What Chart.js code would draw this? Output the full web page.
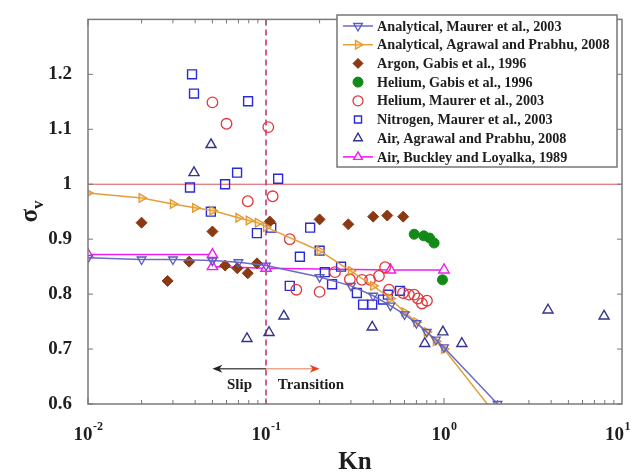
<!DOCTYPE html>
<html lang="en">
<head>
<meta charset="UTF-8" />
<title>Accommodation coefficient vs Kn</title>
<script src="https://cdn.jsdelivr.net/npm/chart.js@4.4.0/dist/chart.umd.min.js"></script>
<style>
  html, body { margin: 0; padding: 0; background: #fff; }
  .chart-box { position: relative; width: 631px; height: 473px; }
</style>
</head>
<body>
<div class="chart-box"><canvas id="tmacChart"></canvas></div>
<script>
// --- Data -----------------------------------------------------
const maurerAnaKn  = [0.01, 0.02, 0.03, 0.05, 0.07, 0.1, 0.2, 0.3, 0.4, 0.5, 0.6, 0.7, 0.8, 0.9, 1.0, 2.0];
const maurerAnaSig = [0.866, 0.863, 0.863, 0.861, 0.858, 0.852, 0.831, 0.815, 0.797, 0.779, 0.763, 0.747, 0.731, 0.717, 0.703, 0.600];

const agrawalAnaKn  = [0.01, 0.02, 0.03, 0.04, 0.05, 0.07, 0.08, 0.09, 0.1, 0.2, 0.3, 0.4, 0.5, 0.6, 0.7, 0.8, 0.9, 1.0, 2.0];
const agrawalAnaSig = [0.984, 0.975, 0.964, 0.957, 0.952, 0.939, 0.934, 0.930, 0.922, 0.879, 0.842, 0.815, 0.792, 0.767, 0.749, 0.731, 0.714, 0.700, 0.576];

const argonKn  = [0.02, 0.028, 0.037, 0.05, 0.059, 0.069, 0.079, 0.089, 0.105, 0.2, 0.29, 0.4, 0.48, 0.59];
const argonSig = [0.930, 0.824, 0.859, 0.914, 0.852, 0.847, 0.838, 0.856, 0.932, 0.936, 0.927, 0.941, 0.943, 0.941];

const heGabisKn  = [0.68, 0.77, 0.83, 0.88, 0.98];
const heGabisSig = [0.909, 0.906, 0.902, 0.893, 0.826];

const heMaurerKn  = [0.05, 0.06, 0.079, 0.103, 0.109, 0.136, 0.148, 0.2, 0.244, 0.296, 0.346, 0.384, 0.431, 0.467, 0.491, 0.589, 0.635, 0.68, 0.714, 0.752, 0.802];
const heMaurerSig = [1.149, 1.110, 0.969, 1.104, 0.978, 0.900, 0.808, 0.804, 0.840, 0.827, 0.826, 0.826, 0.833, 0.849, 0.808, 0.802, 0.799, 0.799, 0.792, 0.783, 0.788];

const n2Kn  = [0.0384, 0.0394, 0.0793, 0.0688, 0.0589, 0.0374, 0.049, 0.117, 0.0889, 0.107, 0.177, 0.2, 0.155, 0.264, 0.214, 0.136, 0.235, 0.324, 0.351, 0.395, 0.454, 0.484, 0.566];
const n2Sig = [1.200, 1.165, 1.151, 1.021, 1.000, 0.994, 0.950, 1.010, 0.911, 0.921, 0.921, 0.879, 0.868, 0.850, 0.840, 0.815, 0.818, 0.802, 0.781, 0.781, 0.790, 0.799, 0.806];

const airAgKn  = [0.0394, 0.0491, 0.0782, 0.104, 0.126, 0.395, 0.78, 0.986, 1.26, 3.84, 7.93];
const airAgSig = [1.021, 1.072, 0.719, 0.730, 0.760, 0.740, 0.710, 0.731, 0.710, 0.771, 0.760];

const buckleyKn  = [0.01, 0.05, 0.05, 0.1, 0.5, 1.0];
const buckleySig = [0.872, 0.872, 0.850, 0.847, 0.844, 0.844];

// axis ticks
const xMajorTicks = [0.01, 0.1, 1, 10];
const xTickExp    = ['-2', '-1', '0', '1'];
const yTicks      = [0.6, 0.7, 0.8, 0.9, 1.0, 1.1, 1.2];

const pts = (xs, ys) => xs.map((x, i) => ({ x, y: ys[i] }));

const SERIF = '"Liberation Serif", "Times New Roman", serif';

const datasets = [
  { label: 'Analytical, Maurer et al., 2003', data: pts(maurerAnaKn, maurerAnaSig), showLine: true,
    borderColor: '#6b6bc8', borderWidth: 1.5, pointStyle: 'triangle', rotation: 180, pointRadius: 5,
    pointBorderColor: '#5a5ab8', pointBackgroundColor: 'rgba(255,255,255,0)', pointBorderWidth: 1.3 },
  { label: 'Analytical, Agrawal and Prabhu, 2008', data: pts(agrawalAnaKn, agrawalAnaSig), showLine: true,
    borderColor: '#e3a03a', borderWidth: 1.5, pointStyle: 'triangle', rotation: 90, pointRadius: 5,
    pointBorderColor: '#df9a30', pointBackgroundColor: 'rgba(240,180,80,0.35)', pointBorderWidth: 1.3 },
  { label: 'Argon, Gabis et al., 1996', data: pts(argonKn, argonSig),
    pointStyle: 'rectRot', pointRadius: 5.5, pointBorderColor: '#8a3a12', pointBackgroundColor: '#8a3a12', pointBorderWidth: 1 },
  { label: 'Helium, Gabis et al., 1996', data: pts(heGabisKn, heGabisSig),
    pointStyle: 'circle', pointRadius: 5, pointBorderColor: '#138a18', pointBackgroundColor: '#138a18', pointBorderWidth: 1 },
  { label: 'Helium, Maurer et al., 2003', data: pts(heMaurerKn, heMaurerSig),
    pointStyle: 'circle', pointRadius: 5.3, pointBorderColor: '#e0383c', pointBackgroundColor: 'rgba(255,255,255,0)', pointBorderWidth: 1.3 },
  { label: 'Nitrogen, Maurer et al., 2003', data: pts(n2Kn, n2Sig),
    pointStyle: 'rect', pointRadius: 6.3, pointBorderColor: '#2a2ad6', pointBackgroundColor: 'rgba(255,255,255,0)', pointBorderWidth: 1.4 },
  { label: 'Air, Agrawal and Prabhu, 2008', data: pts(airAgKn, airAgSig),
    pointStyle: 'triangle', pointRadius: 5.8, pointBorderColor: '#33338e', pointBackgroundColor: 'rgba(255,255,255,0)', pointBorderWidth: 1.4 },
  { label: 'Air, Buckley and Loyalka, 1989', data: pts(buckleyKn, buckleySig), showLine: true,
    borderColor: '#f01ef0', borderWidth: 1.6, pointStyle: 'triangle', pointRadius: 6,
    pointBorderColor: '#f01ef0', pointBackgroundColor: 'rgba(255,255,255,0.9)', pointBorderWidth: 1.4 }
];

// --- Decorations: frame, inward ticks, labels, guides, legend ---
const decor = {
  id: 'decor',
  beforeDatasetsDraw(chart) {
    const { ctx, chartArea: a, scales: { x, y } } = chart;
    ctx.save();
    // sigma = 1 reference
    ctx.strokeStyle = '#e0505a'; ctx.lineWidth = 1;
    const y1 = y.getPixelForValue(1.0);
    ctx.beginPath(); ctx.moveTo(a.left, y1); ctx.lineTo(a.right, y1); ctx.stroke();
    // slip / transition boundary
    const xb = x.getPixelForValue(0.1);
    ctx.strokeStyle = '#c83a72'; ctx.lineWidth = 1.6; ctx.setLineDash([6, 4]);
    ctx.beginPath(); ctx.moveTo(xb, a.top); ctx.lineTo(xb, a.bottom); ctx.stroke();
    ctx.restore();
  },
  afterDraw(chart) {
    const { ctx, chartArea: a, scales: { x, y } } = chart;
    const h = Chart.helpers;
    ctx.save();

    // frame
    ctx.strokeStyle = '#7a7a7a'; ctx.lineWidth = 1.5;
    ctx.strokeRect(a.left, a.top, a.right - a.left, a.bottom - a.top);

    // inward ticks
    ctx.lineWidth = 1; ctx.strokeStyle = '#777';
    ctx.beginPath();
    for (let e = -2; e < 1; e++) {
      for (let m = 1; m <= 9; m++) {
        const px = x.getPixelForValue(m * Math.pow(10, e));
        const len = m === 1 ? 6 : 4;
        ctx.moveTo(px, a.bottom); ctx.lineTo(px, a.bottom - len);
        ctx.moveTo(px, a.top); ctx.lineTo(px, a.top + len);
      }
    }
    yTicks.forEach(v => {
      const py = y.getPixelForValue(v);
      ctx.moveTo(a.left, py); ctx.lineTo(a.left + 5, py);
      ctx.moveTo(a.right, py); ctx.lineTo(a.right - 5, py);
    });
    ctx.stroke();

    // x tick labels 10^n
    ctx.fillStyle = '#1e1e1e'; ctx.textBaseline = 'alphabetic';
    xMajorTicks.forEach((v, i) => {
      const px = x.getPixelForValue(v);
      ctx.font = 'bold 19px ' + SERIF;
      const wb = ctx.measureText('10').width;
      ctx.font = 'bold 12px ' + SERIF;
      const we = ctx.measureText(xTickExp[i]).width;
      let x0 = px - (wb + we) / 2;
      if (x0 + wb + we + 1 > chart.width) x0 = chart.width - wb - we - 1;
      ctx.font = 'bold 19px ' + SERIF; ctx.textAlign = 'left';
      ctx.fillText('10', x0, 440);
      ctx.font = 'bold 12px ' + SERIF;
      ctx.fillText(xTickExp[i], x0 + wb + 0.5, 430);
    });

    // axis titles
    ctx.font = 'bold 25px ' + SERIF; ctx.textAlign = 'center';
    ctx.fillText('Kn', (a.left + a.right) / 2, 469);
    ctx.save();
    ctx.translate(37, (a.top + a.bottom) / 2);
    ctx.rotate(-Math.PI / 2);
    ctx.font = 'bold 25px ' + SERIF; ctx.textAlign = 'left';
    const ws = ctx.measureText('σ').width;
    ctx.fillText('σ', -ws / 2 - 4, 0);
    ctx.font = 'bold 17px ' + SERIF;
    ctx.fillText('v', ws / 2 - 4, 6);
    ctx.restore();

    // slip / transition arrows
    const xb = x.getPixelForValue(0.1);
    const xl = x.getPixelForValue(0.05);
    const xr = x.getPixelForValue(0.2);
    const ya = y.getPixelForValue(0.664);
    ctx.lineWidth = 1.5;
    ctx.strokeStyle = '#555'; ctx.beginPath(); ctx.moveTo(xb, ya); ctx.lineTo(xl + 4, ya); ctx.stroke();
    ctx.fillStyle = '#222'; ctx.beginPath();
    ctx.moveTo(xl, ya); ctx.lineTo(xl + 10, ya - 4); ctx.lineTo(xl + 7, ya); ctx.lineTo(xl + 10, ya + 4); ctx.closePath(); ctx.fill();
    ctx.strokeStyle = '#f0a58a'; ctx.beginPath(); ctx.moveTo(xb, ya); ctx.lineTo(xr - 4, ya); ctx.stroke();
    ctx.fillStyle = '#e8401a'; ctx.beginPath();
    ctx.moveTo(xr, ya); ctx.lineTo(xr - 10, ya - 4); ctx.lineTo(xr - 7, ya); ctx.lineTo(xr - 10, ya + 4); ctx.closePath(); ctx.fill();
    ctx.fillStyle = '#1e1e1e'; ctx.font = 'bold 15px ' + SERIF; ctx.textAlign = 'center';
    const yt = y.getPixelForValue(0.627);
    ctx.fillText('Slip', x.getPixelForValue(0.071), yt);
    ctx.fillText('Transition', x.getPixelForValue(0.179), yt);

    // legend
    const lx = 337, ly = 15, lw = 280, lh = 152;
    ctx.fillStyle = '#fff'; ctx.fillRect(lx, ly, lw, lh);
    ctx.strokeStyle = '#777'; ctx.lineWidth = 1.5; ctx.strokeRect(lx, ly, lw, lh);
    ctx.font = 'bold 14.2px ' + SERIF; ctx.textAlign = 'left'; ctx.textBaseline = 'middle';
    chart.data.datasets.forEach((ds, i) => {
      const ry = 26 + i * 18.7;
      if (ds.showLine) {
        ctx.strokeStyle = ds.borderColor; ctx.lineWidth = ds.borderWidth;
        ctx.beginPath(); ctx.moveTo(lx + 6, ry); ctx.lineTo(lx + 36, ry); ctx.stroke();
      }
      ctx.strokeStyle = ds.pointBorderColor; ctx.fillStyle = ds.pointBackgroundColor;
      ctx.lineWidth = ds.pointBorderWidth;
      h.drawPoint(ctx, { pointStyle: ds.pointStyle, rotation: ds.rotation || 0,
        radius: Math.min(ds.pointRadius, 5), borderWidth: ds.pointBorderWidth }, lx + 21, ry);
      ctx.fillStyle = '#1e1e1e';
      ctx.fillText(ds.label, lx + 40, ry + 1);
    });
    ctx.restore();
  }
};

new Chart(document.getElementById('tmacChart'), {
  type: 'scatter',
  data: { datasets },
  options: {
    responsive: true,
    maintainAspectRatio: false,
    animation: false,
    layout: { padding: { top: 10, right: 9, left: 0, bottom: 0 } },
    plugins: { legend: { display: false }, tooltip: { enabled: false } },
    scales: {
      x: {
        type: 'logarithmic', min: 0.01, max: 10,
        grid: { display: false },
        border: { display: false },
        ticks: { display: false },
        afterFit: s => { s.height = 69; }
      },
      y: {
        type: 'linear', min: 0.6, max: 1.3,
        grid: { display: false },
        border: { display: false },
        ticks: {
          stepSize: 0.1, padding: 8, color: '#1e1e1e',
          font: { family: SERIF, size: 19, weight: 'bold' },
          callback: v => (v > 1.25 ? '' : String(+v.toFixed(1)))
        },
        afterFit: s => { s.width = 88; }
      }
    }
  },
  plugins: [decor]
});
</script>
</body>
</html>
